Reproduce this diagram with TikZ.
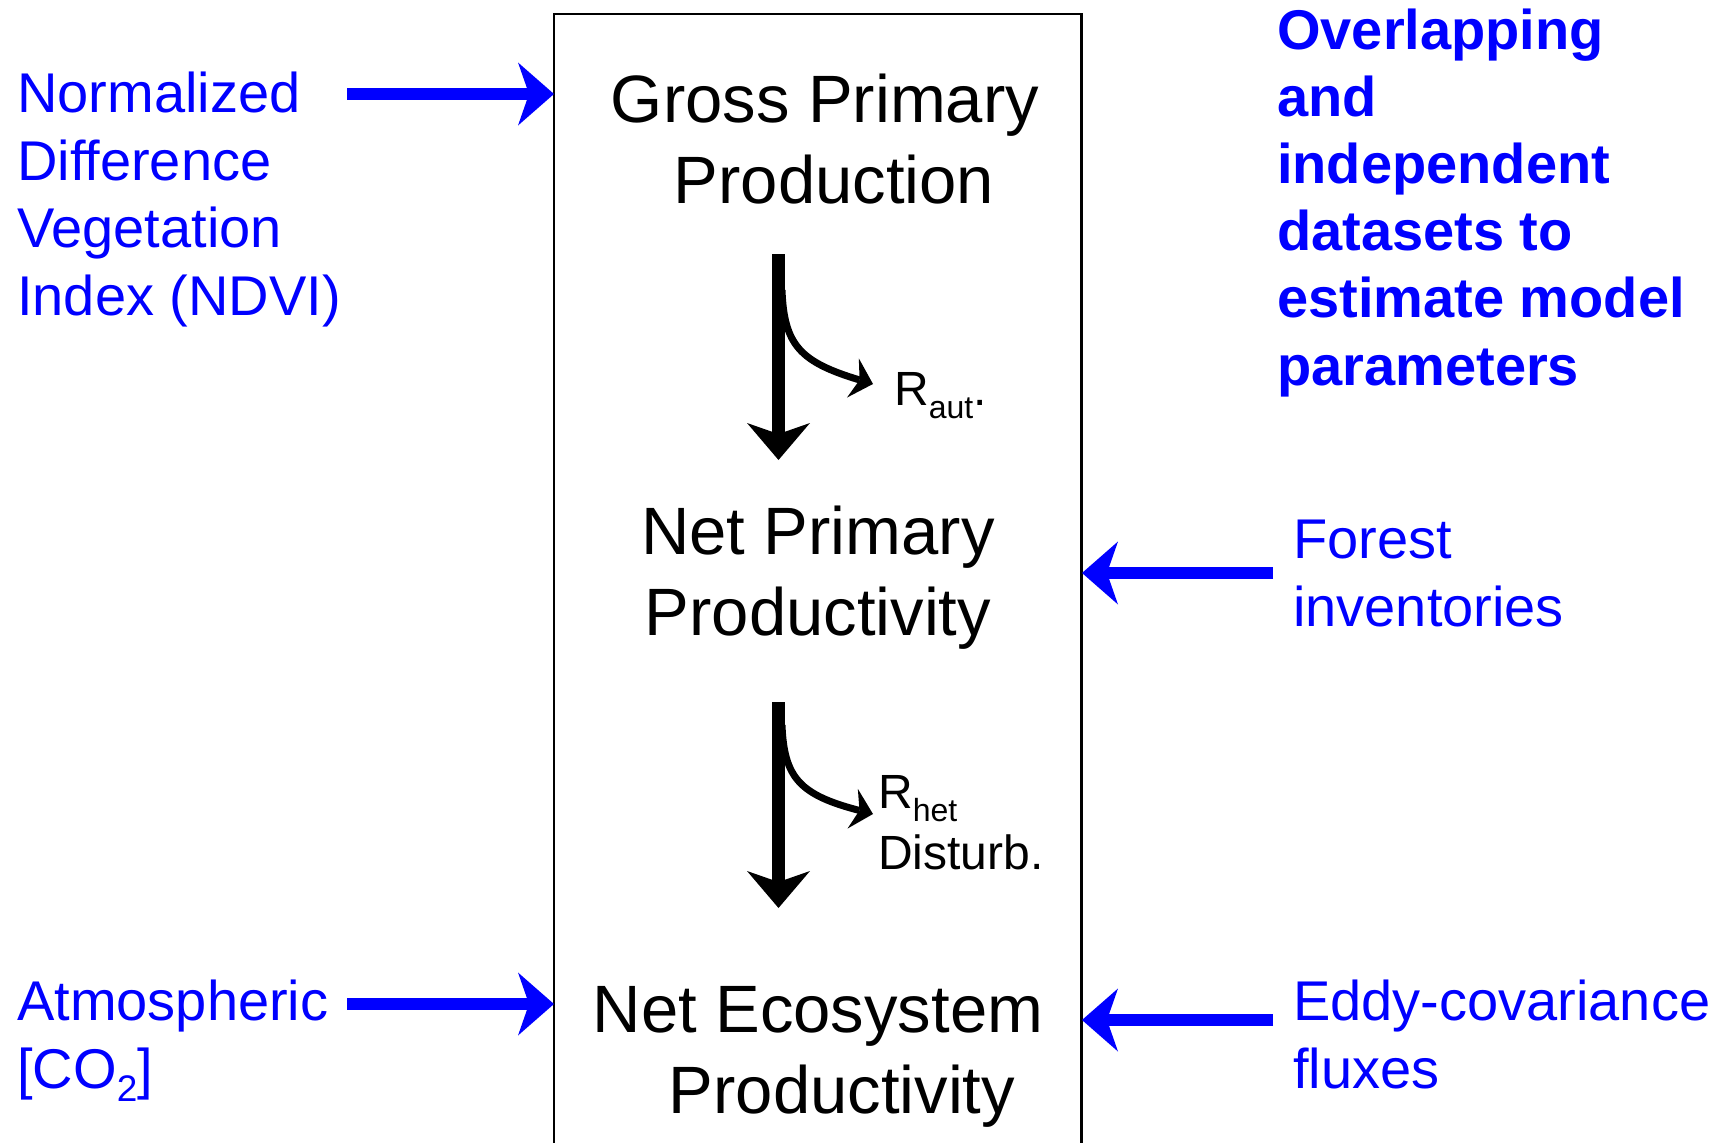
\documentclass[tikz,border=0pt]{standalone}
\usepackage{fontspec}
\setmainfont{Liberation Sans}
\usetikzlibrary{arrows.meta}

\newcommand{\subtxt}[2][32]{\raisebox{-13pt}{\fontsize{#1}{#1}\selectfont #2}}

\tikzset{
  stage/.style={font=\fontsize{67}{81}\selectfont, align=center, inner sep=0pt, anchor=base},
  source/.style={text=blue, font=\fontsize{56}{67.5}\selectfont, align=left, inner sep=0pt, anchor=base west},
  loss/.style={font=\fontsize{48}{61}\selectfont, align=left, inner sep=0pt, anchor=base west},
  feed/.style={draw=blue, line width=12pt, -{Stealth[length=36pt, width=63pt, inset=11pt, line width=0pt]}},
  flow/.style={line width=13pt, -{Stealth[length=37pt, width=63pt, inset=11pt, line width=0pt]}},
  resp/.style={line width=7pt, -{Stealth[length=21pt, width=41pt, inset=7pt, line width=0pt]}},
}

\begin{document}
\begin{tikzpicture}[x=1pt, y=-1pt]
    \useasboundingbox (0,0) rectangle (1733,1143);

    % the model, open at the bottom
    \draw[line width=2.5pt] (554,1150) -- (554,14) -- (1081.5,14) -- (1081.5,1150);

    % base = baseline of the last line
    \node[stage] (gpp) at (825,203) {Gross Primary\\\hspace*{18pt}Production};
    \node[stage] (npp) at (818,635) {Net Primary\\Productivity};
    \node[stage] (nep) at (818,1113) {Net Ecosystem\\\hspace*{48pt}Productivity};

    \node[loss] (raut) at (894,405) {R\subtxt{aut}.};
    \node[loss] (rhet) at (878,869) {R\subtxt{het}\\Disturb.};

    \node[source] (ndvi) at (17,315) {Normalized\\Difference\\Vegetation\\Index (NDVI)};
    \node[source] (atm) at (17,1088) {Atmospheric\\{[}CO\subtxt[37]{2}{]}};
    \node[source] (forest) at (1293,626) {Forest\\inventories};
    \node[source] (eddy) at (1293,1088) {Eddy-covariance\\fluxes};
    \node[source, font=\bfseries\fontsize{56}{67.2}\selectfont] (datasets) at (1277,385)
        {Overlapping\\and\\independent\\datasets to\\estimate model\\parameters};

    % ends of the connectors
    \coordinate (ndvi-out) at (347,94);
    \coordinate (gpp-in) at (554,94);
    \coordinate (atm-out) at (347,1004);
    \coordinate (nep-in) at (554,1004);
    \coordinate (forest-out) at (1273,573);
    \coordinate (npp-in) at (1082,573);
    \coordinate (eddy-out) at (1273,1020);
    \coordinate (nep-in2) at (1082,1020);

    \coordinate (gpp-out) at (778.5,254);
    \coordinate (npp-top) at (778.5,460);
    \coordinate (npp-out) at (778.5,702);
    \coordinate (nep-top) at (778.5,908);
    \coordinate (aut-fork) at (782,290);
    \coordinate (aut-tip) at (873,384);
    \coordinate (het-fork) at (782,725);
    \coordinate (het-tip) at (873,814);

    \draw[feed] (ndvi-out) -- (gpp-in);
    \draw[feed] (atm-out) -- (nep-in);
    \draw[feed] (forest-out) -- (npp-in);
    \draw[feed] (eddy-out) -- (nep-in2);

    \draw[flow] (gpp-out) -- (npp-top);
    \draw[flow] (npp-out) -- (nep-top);
    \draw[resp] (aut-fork) .. controls (784,345) and (800,362) .. (aut-tip);
    \draw[resp] (het-fork) .. controls (784,778) and (800,795) .. (het-tip);
\end{tikzpicture}
\end{document}
